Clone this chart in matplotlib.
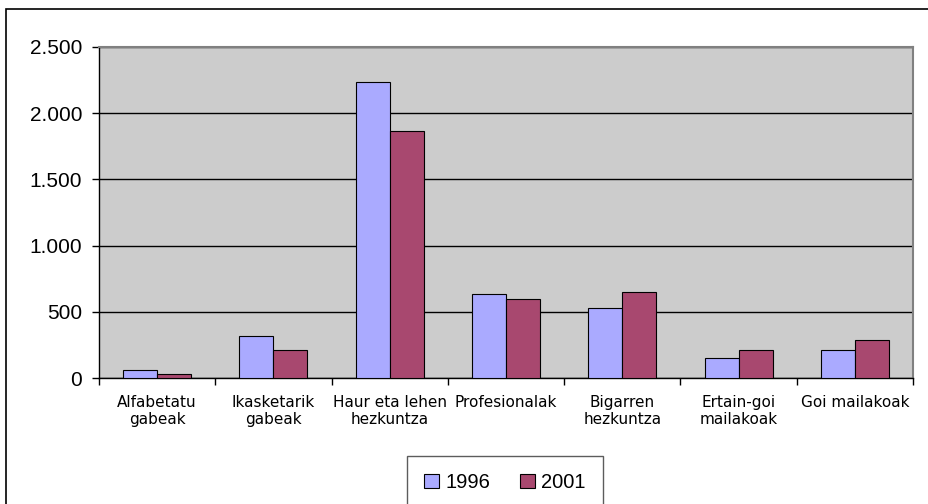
import numpy as np
import matplotlib
matplotlib.use("Agg")
import matplotlib.pyplot as plt
from matplotlib.patches import Rectangle

# ==========================================
# DATA
# ==========================================

categories = [
    "Alfabetatu\ngabeak",
    "Ikasketarik\ngabeak",
    "Haur eta lehen\nhezkuntza",
    "Profesionalak",
    "Bigarren\nhezkuntza",
    "Ertain-goi\nmailakoak",
    "Goi mailakoak",
]
values_1996 = [60, 317, 2236, 632, 526, 151, 211]
values_2001 = [30, 211, 1863, 599, 647, 211, 287]
series_names = ["1996", "2001"]

y_ticks = [0, 500, 1000, 1500, 2000, 2500]
y_tick_labels = ["0", "500", "1.000", "1.500", "2.000", "2.500"]

COL_1996 = "#aaaaff"
COL_2001 = "#a8486f"

# ==========================================
# FIGURE
# ==========================================

fig = plt.figure(figsize=(9.29, 5.04), dpi=100)
ax = fig.add_axes([99 / 929, 1 - 378 / 504, (913 - 99) / 929, (378 - 47) / 504])

# outer chart border (left + top visible)
fig.patches.append(Rectangle((6 / 929, -0.2), 1.2, 1 - 9 / 504 + 0.2,
                             transform=fig.transFigure, fill=False,
                             edgecolor="black", linewidth=1.2))

x = np.arange(len(categories))
w = 0.292

ax.bar(x - w / 2, values_1996, w, color=COL_1996, edgecolor="black",
       linewidth=0.8, label=series_names[0], zorder=3)
ax.bar(x + w / 2, values_2001, w, color=COL_2001, edgecolor="black",
       linewidth=0.8, label=series_names[1], zorder=3)

ax.set_facecolor("#cccccc")
ax.set_xlim(-0.5, len(categories) - 0.5)
ax.set_ylim(0, 2500)

ax.set_yticks(y_ticks)
ax.set_yticklabels(y_tick_labels, fontsize=15, family="Liberation Sans")
ax.yaxis.grid(True, color="black", linewidth=1, zorder=1)
ax.set_axisbelow(True)

ax.set_xticks(x)
ax.set_xticklabels(categories, fontsize=11, family="DejaVu Sans",
                   linespacing=1.2)
ax.set_xticks(np.arange(len(categories) + 1) - 0.5, minor=True)
ax.tick_params(axis="x", which="major", length=0, pad=12)
ax.tick_params(axis="x", which="minor", length=5, direction="out", width=1)
ax.tick_params(axis="y", length=5, direction="out", width=1, pad=7)

for side in ["top", "right"]:
    ax.spines[side].set_color("#808080")
    ax.spines[side].set_linewidth(1.5)
for side in ["left", "bottom"]:
    ax.spines[side].set_color("black")
    ax.spines[side].set_linewidth(1)

leg = fig.legend(loc="upper left", bbox_to_anchor=(407 / 929, 1 - 456 / 504),
                 ncol=2, frameon=True, fancybox=False, edgecolor="#333333",
                 prop={"family": "Liberation Sans", "size": 14.5},
                 handlelength=0.75, handleheight=0.75, handletextpad=0.3,
                 columnspacing=1.5, borderpad=0.85, borderaxespad=0)
leg.get_frame().set_linewidth(1)

fig.savefig("out.png", dpi=100)
